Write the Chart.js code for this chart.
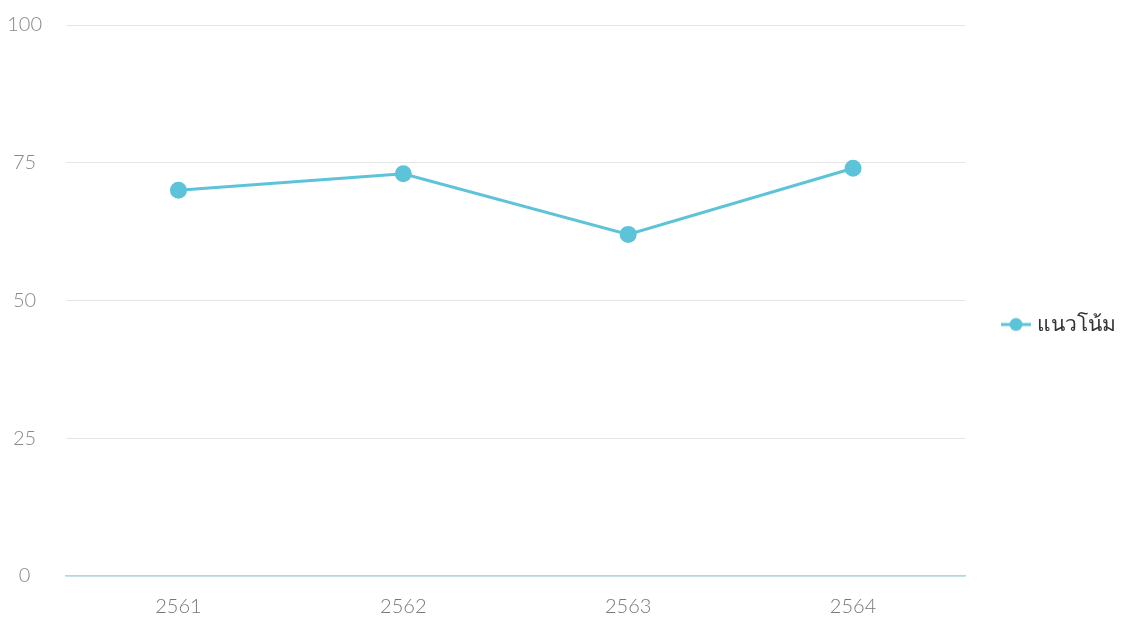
<!DOCTYPE html>
<html>
<head>
<meta charset="utf-8">
<script src="https://cdn.jsdelivr.net/npm/chart.js@4/dist/chart.umd.min.js"></script>
<style>
  html, body { margin: 0; padding: 0; background: #fff; }
  #wrap { width: 1126px; height: 624px; }
</style>
</head>
<body>
<div id="wrap"><canvas id="trend"></canvas></div>
<script>
const years = ['2561', '2562', '2563', '2564']
const trendValues = [70, 73, 62, 74]
const yTicks = [0, 25, 50, 75, 100]
const seriesName = 'แนวโน้ม'

const lineColor = '#5cc3d9'

// legend marker: short line with a dot in the middle
const marker = document.createElement('canvas')
marker.width = 32
marker.height = 16
const mc = marker.getContext('2d')
mc.strokeStyle = lineColor
mc.lineWidth = 3
mc.beginPath()
mc.moveTo(1, 8)
mc.lineTo(31, 8)
mc.stroke()
mc.fillStyle = lineColor
mc.beginPath()
mc.arc(16, 8, 6.5, 0, Math.PI * 2)
mc.fill()

const font = "'Lato', 'Noto Sans', sans-serif"

new Chart(document.getElementById('trend').getContext('2d'), {
  type: 'line',
  data: {
    labels: years,
    datasets: [
      {
        label: seriesName,
        data: trendValues,
        borderColor: lineColor,
        backgroundColor: lineColor,
        pointBackgroundColor: lineColor,
        pointBorderColor: lineColor,
        borderWidth: 3,
        pointRadius: 7,
        tension: 0
      }
    ]
  },
  options: {
    responsive: true,
    maintainAspectRatio: false,
    animation: false,
    layout: { padding: { top: 25, left: 4, right: 0, bottom: 0 } },
    plugins: {
      tooltip: { enabled: false },
      legend: {
        position: 'right',
        labels: {
          usePointStyle: true,
          pointStyle: marker,
          color: '#333',
          padding: 40,
          font: { family: font, size: 21, weight: 300 }
        }
      }
    },
    scales: {
      x: {
        offset: true,
        grid: { display: false },
        border: { display: true, color: '#a9dbe5', width: 1.5 },
        ticks: { color: '#777', padding: 11, font: { family: font, size: 20, weight: 300 } },
        afterFit: axis => { axis.height = 48 }
      },
      y: {
        min: 0,
        max: 100,
        afterBuildTicks: axis => { axis.ticks = yTicks.map(v => ({ value: v })) },
        border: { display: false },
        grid: { color: '#e6e6e6', drawTicks: false },
        ticks: {
          color: '#888',
          padding: 24,
          crossAlign: 'center',
          font: { family: font, size: 20, weight: 300 }
        },
        afterFit: axis => {
          axis.width = 62
          axis.paddingTop = 0
          axis.paddingBottom = 0
        }
      }
    }
  }
})
</script>
</body>
</html>
